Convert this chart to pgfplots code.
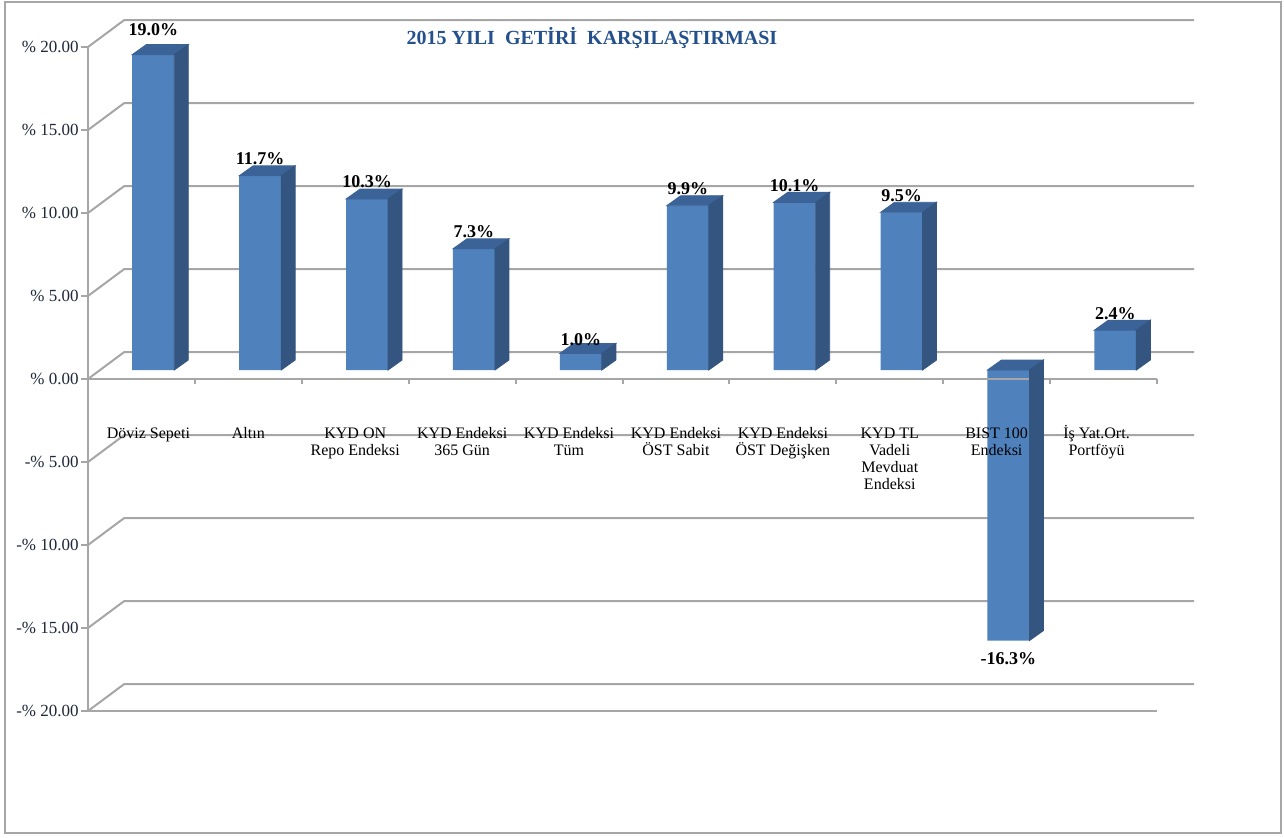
\documentclass[border=0pt]{standalone}
\usepackage{pgfplots}
\pgfplotsset{compat=1.18}
\usepackage{pgfplotstable}
\usepackage{fontspec}
\setmainfont{Liberation Serif}
\definecolor{barfront}{HTML}{4F81BD}
\definecolor{barside}{HTML}{34557F}
\definecolor{bartop}{HTML}{3B6398}
\definecolor{gridc}{HTML}{A6A6A6}
\definecolor{titlec}{HTML}{24508C}
\definecolor{tickc}{HTML}{1E2638}
\pgfdeclareplotmark{blank}{}
\newcommand{\ph}{\vphantom{İ}}

\pgfplotstableread{
x v off
0.5 19.0 12.5
1.5 11.7 8.5
2.5 10.3 8.5
3.5 7.3 8.5
4.5 1.0 7
5.5 9.9 8.5
6.5 10.1 8.5
7.5 9.5 8.5
8.5 -16.3 -9
9.5 2.4 8.5
}\data

\begin{document}
\begin{tikzpicture}
\path (-44pt,-63pt) rectangle (598pt,355.5pt);
\draw[gridc, line width=1pt] (-41.5pt,-61pt) rectangle (596.5pt,354.5pt);
\begin{axis}[
  at={(0pt,0pt)}, anchor=south west,
  scale only axis, width=534.5pt, height=332pt,
  xmin=0, xmax=10, ymin=-20, ymax=20,
  axis on top, clip=false,
  axis x line*=middle, axis y line*=left,
  hide obscured x ticks=false, hide obscured y ticks=false,
  axis line style={gridc, line width=1pt},
  xtick={0.5,1.5,2.5,3.5,4.5,5.5,6.5,7.5,8.5,9.5},
  xticklabels={{\ph\hspace*{7pt}Döviz Sepeti},{\ph Altın},{\ph KYD ON\\Repo Endeksi},{\ph KYD Endeksi\\365 Gün},{\ph KYD Endeksi\\Tüm},{\ph KYD Endeksi\\ÖST Sabit},{\ph KYD Endeksi\\ÖST Değişken},{\ph KYD TL\\Vadeli\\Mevduat\\Endeksi},{\ph BIST 100\\Endeksi},{\ph İş Yat.Ort.\hspace*{7pt}\\Portföyü\hspace*{7pt}}},
  x tick style={draw=none},
  xticklabel style={anchor=north, yshift=-16pt, align=center, font=\fontsize{8}{8.5}\selectfont, text=black},
  ytick={-20,-15,-10,-5,0,5,10,15,20},
  yticklabels={-\% 20.00, -\% 15.00, -\% 10.00, -\% 5.00, \% 0.00, \% 5.00, \% 10.00, \% 15.00, \% 20.00},
  y tick style={gridc, line width=1pt},
  tick align=outside, major tick length=3.5pt,
  yticklabel style={font=\fontsize{8.5}{10}\selectfont, text=tickc, inner xsep=1pt},
]
\pgfplotsinvokeforeach{-20,-15,-10,-5,0,5,10,15,20}{
  \draw[gridc, line width=1pt] (axis cs:0,#1) -- ([xshift=18pt,yshift=13.4pt]axis cs:0,#1) -- ([xshift=18.5pt,yshift=13.4pt]axis cs:10,#1);
}
\draw[gridc, line width=1pt] (axis cs:0,-20) -- (axis cs:10,-20);

\addplot[ybar, bar width=21pt, bar shift=5.9pt, yshift=4.5pt, fill=barfront, draw=none] table[x=x,y=v]{\data};

\addplot[scatter, only marks, mark=blank,
  visualization depends on={\thisrow{v} \as \val},
  visualization depends on={\thisrow{off} \as \off},
  scatter/@pre marker code/.code={%
    \pgfmathsetmacro\bartopv{max(0,-\val)}%
    \pgfmathsetmacro\barbotv{min(0,-\val)}%
    \fill[bartop] ([xshift=-4.6pt,yshift=4.5pt]axis direction cs:0,\bartopv) -- ++(21pt,0pt) -- ++(7pt,5pt) -- ++(-21pt,0pt) -- cycle;
    \fill[barside] ([xshift=16.4pt,yshift=4.5pt]axis direction cs:0,\bartopv) -- ++(7pt,5pt) -- ([xshift=23.4pt,yshift=9.5pt]axis direction cs:0,\barbotv) -- ([xshift=16.4pt,yshift=4.5pt]axis direction cs:0,\barbotv) -- cycle;
    \node[font=\bfseries\fontsize{9}{10}\selectfont, text=black] at ([yshift=\off pt]5.9pt,4.5pt) {\pgfmathprintnumber[fixed, fixed zerofill, precision=1, assume math mode=true]{\val}\%};
  },
  scatter/@post marker code/.code={},
] table[x=x,y=v]{\data};

\pgfplotsinvokeforeach{0,1,2,3,4,5,6,7,8,9,10}{
  \draw[gridc, line width=1pt] (axis cs:#1,0) -- ++(0pt,-2.5pt);
}
\end{axis}
\node[font=\bfseries\fontsize{10}{12}\selectfont, text=titlec] at (252pt,336.5pt) {2015 YILI\ \ GETİRİ\ \ KARŞILAŞTIRMASI};
\end{tikzpicture}
\end{document}
